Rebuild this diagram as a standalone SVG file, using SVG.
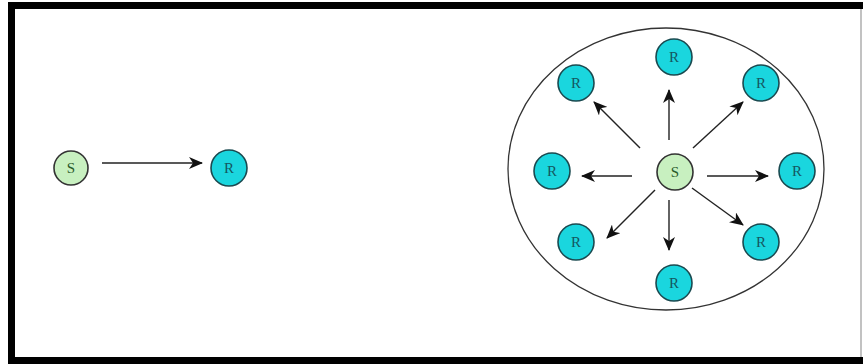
<svg xmlns="http://www.w3.org/2000/svg" width="863" height="364" viewBox="0 0 863 364">
<style>
.s circle{fill:#c8f0c0;stroke:#333;stroke-width:1.6}
.r circle{fill:#1ad6de;stroke:#1a4a50;stroke-width:1.6}
text{font-family:"Liberation Serif",serif;font-size:15px;text-anchor:middle;dominant-baseline:central}
.s text{fill:#2a5a2a}
.r text{fill:#145860}
.conn line{stroke:#222;stroke-width:1.4;marker-end:url(#ah)}
</style>
<defs>
<marker id="ah" viewBox="0 0 14 12" refX="13" refY="6" markerWidth="14" markerHeight="12" markerUnits="userSpaceOnUse" orient="auto">
<path d="M0,0 L14,6 L0,12 L4,6 Z" fill="#111"/>
</marker>
</defs>
<rect width="863" height="364" fill="#fff"/>
<g id="frame">
<rect x="8" y="2" width="855" height="7" fill="#000"/>
<rect x="8" y="2" width="7" height="362" fill="#000"/>
<rect x="8" y="357" width="855" height="7" fill="#000"/>
<line x1="861" y1="9" x2="861" y2="357" stroke="#999" stroke-width="1.2"/>
</g>
<g id="cell">
<ellipse cx="666" cy="169" rx="158" ry="141" fill="none" stroke="#333" stroke-width="1.3"/>
</g>
<g class="conn" id="connectors">
<line x1="102" y1="163" x2="202" y2="163"/>
<line x1="669" y1="140" x2="669" y2="90"/>
<line x1="640" y1="148" x2="594" y2="102"/>
<line x1="693" y1="148" x2="743" y2="102"/>
<line x1="632" y1="176" x2="582" y2="176"/>
<line x1="707" y1="176" x2="768" y2="176"/>
<line x1="655" y1="190" x2="607" y2="238"/>
<line x1="669" y1="200" x2="669" y2="250"/>
<line x1="692" y1="188" x2="743" y2="225"/>
</g>
<g id="s1" class="s"><circle cx="71" cy="168" r="17"/><text x="71" y="168">S</text></g>
<g id="r1" class="r"><circle cx="229" cy="168" r="18"/><text x="229" y="168">R</text></g>
<g id="s2" class="s"><circle cx="675" cy="172" r="18"/><text x="675" y="172">S</text></g>
<g id="rt" class="r"><circle cx="674" cy="57" r="18"/><text x="674" y="57">R</text></g>
<g id="rtl" class="r"><circle cx="576" cy="83" r="18"/><text x="576" y="83">R</text></g>
<g id="rtr" class="r"><circle cx="761" cy="83" r="18"/><text x="761" y="83">R</text></g>
<g id="rl" class="r"><circle cx="552" cy="171" r="18"/><text x="552" y="171">R</text></g>
<g id="rr" class="r"><circle cx="797" cy="171" r="18"/><text x="797" y="171">R</text></g>
<g id="rbl" class="r"><circle cx="576" cy="242" r="18"/><text x="576" y="242">R</text></g>
<g id="rbr" class="r"><circle cx="761" cy="242" r="18"/><text x="761" y="242">R</text></g>
<g id="rb" class="r"><circle cx="674" cy="283" r="18"/><text x="674" y="283">R</text></g>
</svg>
